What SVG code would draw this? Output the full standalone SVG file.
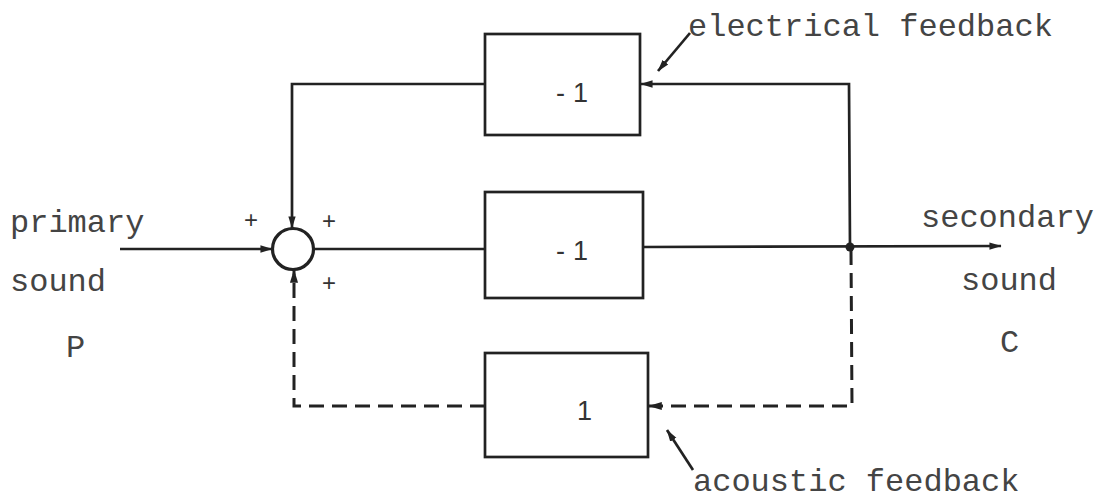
<svg xmlns="http://www.w3.org/2000/svg" width="1096" height="501" viewBox="0 0 1096 501">
<style>
.ln{fill:none;stroke:#222;stroke-width:2.7}
.ds{fill:none;stroke:#222;stroke-width:3;stroke-dasharray:15,8}
.bx{fill:#fff;stroke:#222;stroke-width:2.7}
.tt{font-family:"Liberation Mono",monospace;font-size:32px;fill:#444}
.nm{font-family:"Liberation Sans",sans-serif;font-size:27px;fill:#333}
.pl{font-family:"Liberation Sans",sans-serif;font-size:24px;fill:#333}
</style>
<defs>
<marker id="ah" viewBox="0 0 10 10" refX="9.5" refY="5" markerWidth="4.5" markerHeight="4.5" markerUnits="strokeWidth" orient="auto"><path d="M0,2 L10,5 L0,8 z" fill="#222"/></marker>
</defs>
<rect width="1096" height="501" fill="#fff"/>
<g id="connectors">
<line class="ln" x1="120" y1="249" x2="272" y2="249" marker-end="url(#ah)"/>
<line class="ln" x1="313" y1="249" x2="485" y2="249"/>
<line class="ln" x1="643" y1="247" x2="1001" y2="246" marker-end="url(#ah)"/>
<polyline class="ln" points="850,247 849,84 641,84" marker-end="url(#ah)"/>
<polyline class="ln" points="485,84 292,84 292,228" marker-end="url(#ah)"/>
<polyline class="ds" points="851,250 852,406 649,406" marker-end="url(#ah)"/>
<polyline class="ds" points="485,406 294,406 294,270" marker-end="url(#ah)"/>
<circle cx="850" cy="247" r="4.5" fill="#222"/>
<line class="ln" x1="690" y1="33" x2="658" y2="71" marker-end="url(#ah)"/>
<line class="ln" x1="693" y1="470" x2="667" y2="430" marker-end="url(#ah)"/>
</g>
<g id="sum">
<circle cx="293" cy="249" r="20.5" fill="#fff" stroke="#222" stroke-width="3.2"/>
<text class="pl" x="244" y="228">+</text>
<text class="pl" x="322" y="229">+</text>
<text class="pl" x="322" y="291">+</text>
</g>
<g id="box-top">
<rect class="bx" x="485" y="34" width="155" height="101"/>
<text class="nm" x="556" y="102" letter-spacing="8">-1</text>
</g>
<g id="box-mid">
<rect class="bx" x="485" y="192" width="158" height="106"/>
<text class="nm" x="556" y="260" letter-spacing="8">-1</text>
</g>
<g id="box-bot">
<rect class="bx" x="485" y="353" width="163" height="104"/>
<text class="nm" x="577" y="420">1</text>
</g>
<g id="labels">
<text class="tt" x="10" y="232">primary</text>
<text class="tt" x="10" y="291">sound</text>
<text class="tt" x="66" y="357">P</text>
<text class="tt" x="921" y="227">secondary</text>
<text class="tt" x="961" y="290">sound</text>
<text class="tt" x="1000" y="352">C</text>
<text class="tt" x="688" y="36">electrical feedback</text>
<text class="tt" x="693" y="491">acoustic feedback</text>
</g>
</svg>
